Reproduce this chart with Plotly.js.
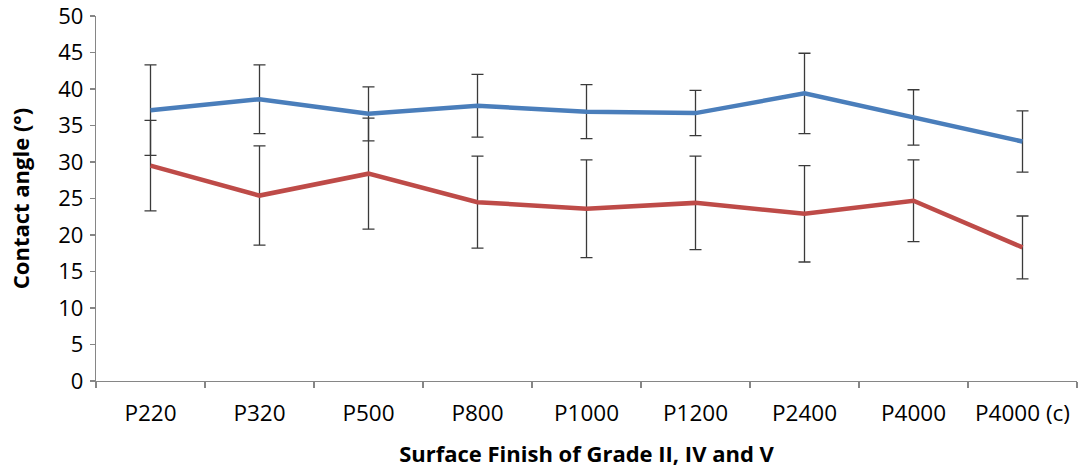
<!DOCTYPE html>
<html>
<head>
<meta charset="utf-8">
<script src="https://cdn.plot.ly/plotly-3.0.1.min.js"></script>
<style>
  html, body { margin: 0; padding: 0; background: #fff; }
  #chart { width: 1078px; height: 472px; }
</style>
</head>
<body>
<div id="chart"></div>
<script>
// Surface finish grades (x categories)
const finishes = ['P220', 'P320', 'P500', 'P800', 'P1000', 'P1200', 'P2400', 'P4000', 'P4000 (c)'];

// Mean contact angle (°) and standard deviation per finish
const seriesA = [37.1, 38.6, 36.6, 37.7, 36.9, 36.7, 39.4, 36.1, 32.8];
const seriesAErr = [6.2, 4.7, 3.7, 4.3, 3.7, 3.1, 5.5, 3.8, 4.2];
const seriesB = [29.5, 25.4, 28.4, 24.5, 23.6, 24.4, 22.9, 24.7, 18.3];
const seriesBErr = [6.2, 6.8, 7.6, 6.3, 6.7, 6.4, 6.6, 5.6, 4.3];

const yTicks = [0, 5, 10, 15, 20, 25, 30, 35, 40, 45, 50];

const errStyle = (vals) => ({
  type: 'data', array: vals, visible: true,
  color: '#3a3a3a', thickness: 1.3, width: 6
});

const traces = [
  {
    x: finishes, y: seriesA, type: 'scatter', mode: 'lines',
    line: { color: '#4A7EBB', width: 4.5 },
    error_y: errStyle(seriesAErr), showlegend: false
  },
  {
    x: finishes, y: seriesB, type: 'scatter', mode: 'lines',
    line: { color: '#BE4B48', width: 4.5 },
    error_y: errStyle(seriesBErr), showlegend: false
  }
];

const font = 'Open Sans, sans-serif';

const layout = {
  width: 1078, height: 472,
  margin: { l: 96, r: 1, t: 16, b: 91 },
  paper_bgcolor: '#fff', plot_bgcolor: '#fff',
  font: { family: font, color: '#000' },
  xaxis: {
    type: 'category',
    showgrid: false, zeroline: false,
    showline: true, linecolor: '#868686', linewidth: 1.3,
    ticks: 'outside', tickson: 'boundaries', ticklen: 6,
    tickcolor: '#868686', tickwidth: 1.3,
    ticklabelstandoff: 12,
    tickfont: { family: font, size: 22.5, color: '#000' },
    title: { text: '<b>Surface Finish of Grade II, IV and V</b>', font: { family: font, size: 22, color: '#000' }, standoff: 19 },
    range: [-0.5, 8.5]
  },
  yaxis: {
    range: [0, 50], tickvals: yTicks, ticktext: yTicks.map(String),
    showgrid: false, zeroline: false,
    showline: true, linecolor: '#868686', linewidth: 1.3,
    ticks: 'outside', ticklen: 5, tickcolor: '#868686', tickwidth: 1.3,
    ticklabelstandoff: 2, ticklabeloverflow: 'allow',
    tickfont: { family: font, size: 22, color: '#000' },
    title: { text: '<b>Contact angle (°)</b>', font: { family: font, size: 22, color: '#000' }, standoff: 22 }
  }
};

Plotly.newPlot('chart', traces, layout, { displayModeBar: false, staticPlot: true });
</script>
</body>
</html>
